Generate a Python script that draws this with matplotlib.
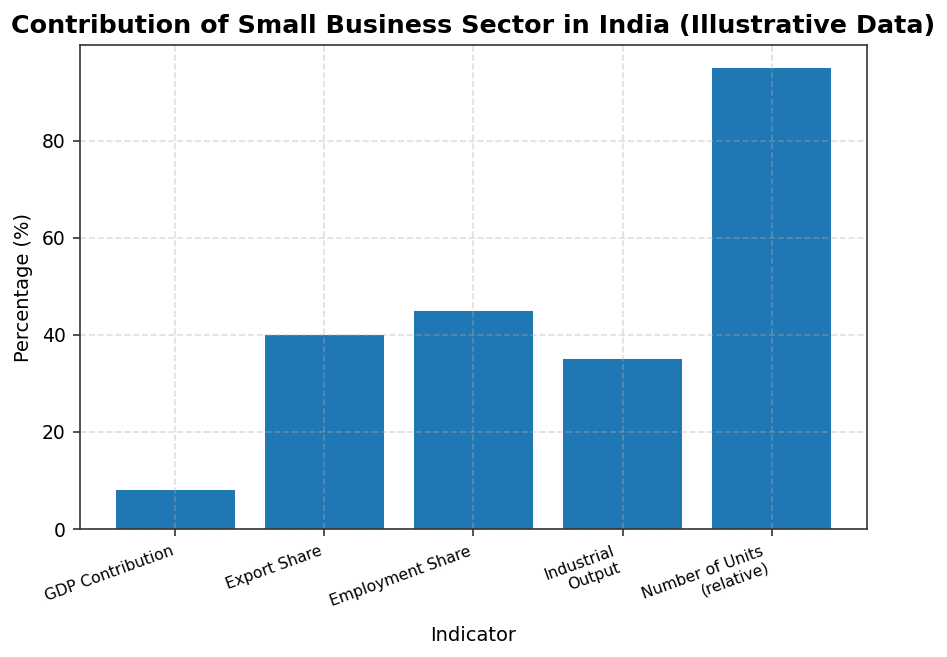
import matplotlib
matplotlib.use("Agg")
import matplotlib.pyplot as plt

indicators = ["GDP Contribution", "Export Share", "Employment Share",
              "Industrial\nOutput", "Number of Units\n(relative)"]
percentages = [8, 40, 45, 35, 95]

fig, ax = plt.subplots(figsize=(9.47 / 1.5, 6.57 / 1.5), dpi=150)
fig.subplots_adjust(left=0.0845, right=0.9155, top=0.9315, bottom=0.1948)

ax.bar(indicators, percentages, color="#1f77b4", width=0.8)
ax.set_title("Contribution of Small Business Sector in India (Illustrative Data)",
             fontsize=12.2, fontweight="bold")
ax.set_xlabel("Indicator", fontsize=9.3)
ax.set_ylabel("Percentage (%)", fontsize=9.3)
ax.grid(True, linestyle="--", alpha=0.4)
ax.tick_params(axis="y", labelsize=9)
plt.setp(ax.get_xticklabels(), rotation=20, ha="right", fontsize=7.5)
for s in ax.spines.values():
    s.set_color("#333333")
ax.tick_params(color="#333333")

fig.savefig("out.png", dpi=150)
